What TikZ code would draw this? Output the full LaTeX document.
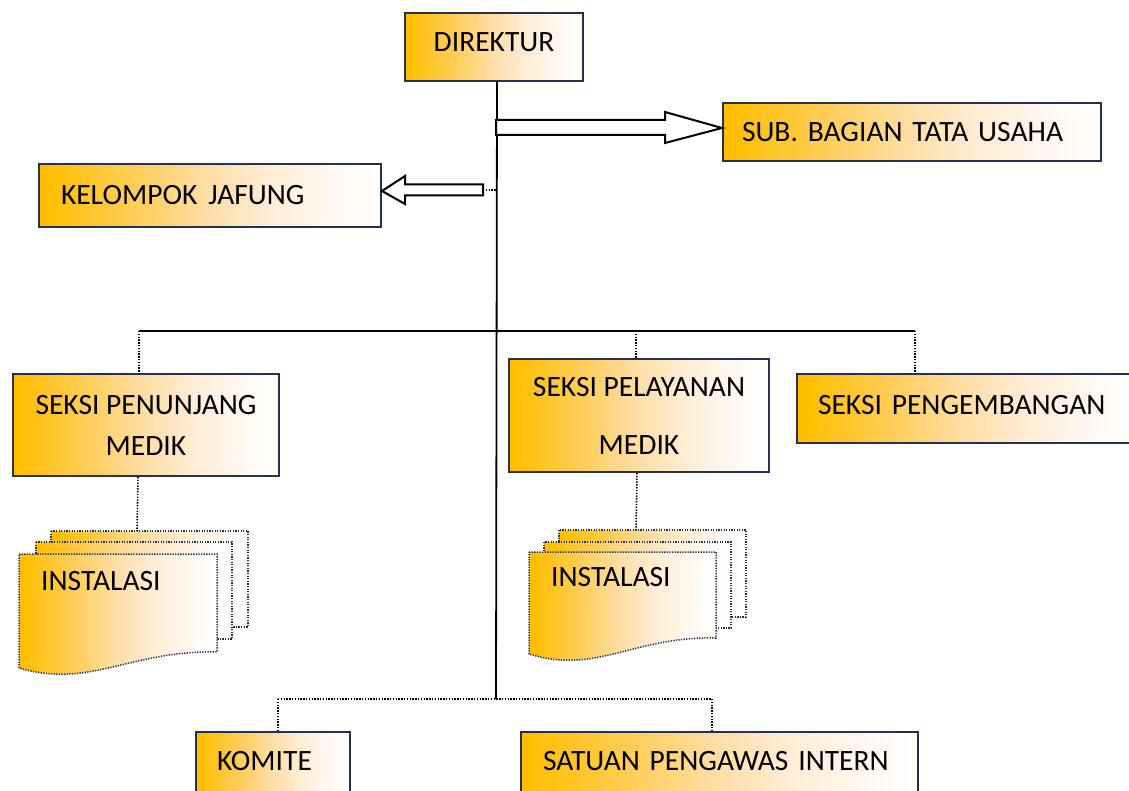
\documentclass[tikz,border=0pt]{standalone}
\usepackage{fontspec}
\setmainfont{Carlito}
\definecolor{gold}{HTML}{FFBF00}
\definecolor{goldA}{HTML}{FFCC52}
\definecolor{goldB}{HTML}{FFDDA2}
\definecolor{goldC}{HTML}{FFEDD6}
\definecolor{goldD}{HTML}{FFF8F1}
\definecolor{navy}{HTML}{24324F}
\pgfdeclarehorizontalshading{goldfade}{100bp}{color(0bp)=(gold); color(26bp)=(gold); color(38bp)=(goldA); color(49bp)=(goldB); color(59bp)=(goldC); color(68bp)=(goldD); color(75bp)=(white); color(100bp)=(white)}
\newcommand\backpage[4]{\shadedraw[docst] (#1,#2) rectangle (#3,#4);}
\newcommand\frontpage[4]{\shadedraw[docst] (#1,#2) -- (#3,#2) -- (#3,#4)
  .. controls ({#1+0.56*(#3-#1)},{#4-2}) and ({#1+0.36*(#3-#1)},{#4+37}) .. (#1,{#4+16}) -- cycle;}
\begin{document}
\begin{tikzpicture}[x=1pt,y=-1pt,
  txt/.style={font=\fontsize{29.5}{35}\selectfont, text=black},
  box/.style={txt, draw=navy, line width=2pt, shading=goldfade,
    anchor=north west, inner sep=0pt},
  lbox/.style={box, align=left},
  cbox/.style={box, align=center},
  docst/.style={draw=navy, line width=1.5pt, dash pattern=on 1.3pt off 1.3pt, shading=goldfade},
  spine/.style={draw=black, line width=1.8pt},
  hline/.style={draw=black, line width=1.2pt},
  dotc/.style={draw=black, line width=1.6pt, dash pattern=on 1.4pt off 1.4pt},
  blockarrow/.style={draw=black, line width=2pt, fill=white, line join=miter}
]
\clip (0,0) rectangle (1129,791);
\fill[white] (0,0) rectangle (1129,791);

% boxes
\node[cbox, minimum width=178pt, minimum height=68pt, text depth=10pt] (dir) at (404,12) {DIREKTUR};
\node[lbox, minimum width=378pt, minimum height=58pt, inner xsep=19pt, text width=340pt] (sub) at (722,102) {\mbox{SUB. BAGIAN TATA USAHA}};
\node[lbox, minimum width=342pt, minimum height=63pt, inner xsep=22pt, text width=298pt] (kel) at (38,163) {\mbox{KELOMPOK\hspace{11pt}JAFUNG}};
\node[cbox, minimum width=266pt, minimum height=102pt, font=\fontsize{29.5}{41}\selectfont] (pen) at (12,373) {SEKSI PENUNJANG\\MEDIK};
\node[cbox, minimum width=260pt, minimum height=113pt, font=\fontsize{29.5}{58}\selectfont] (pel) at (508,358) {SEKSI PELAYANAN\\MEDIK};
\node[lbox, minimum width=340pt, minimum height=69pt, inner xsep=21pt, text width=298pt, text depth=7pt] (pgb) at (796,373) {\mbox{SEKSI PENGEMBANGAN}};
\node[lbox, minimum width=154pt, minimum height=74pt, inner xsep=21pt, text width=112pt, text depth=16pt] (kom) at (195,731) {\mbox{KOMITE}};
\node[lbox, minimum width=397pt, minimum height=74pt, inner xsep=22pt, text width=353pt, text depth=16pt] (spi) at (520,731) {\mbox{SATUAN PENGAWAS INTERN}};

% spine
\coordinate (spinetop) at ([xshift=3pt]dir.south);
\coordinate (spinebot) at (496,699);
\draw[spine] (spinetop) -- (spinebot);

% block arrow to SUB. BAGIAN
\coordinate (tipR) at ([yshift=4pt]sub.west);
\draw[blockarrow] (496,120) -- (665,120) -- (665,112) -- (tipR) -- (665,143) -- (665,135) -- (496,135) -- cycle;

% block arrow to KELOMPOK
\coordinate (tipL) at ([yshift=4.5pt]kel.east);
\coordinate (arrL) at (483,190);
\draw[blockarrow] (tipL) -- (405,176) -- (405,184.5) -- (483,184.5) -- (483,195.5) -- (405,195.5) -- (405,204) -- cycle;
\draw[dotc] (arrL) -- (496,190);

% seksi bus
\coordinate (busL) at (139,331);
\coordinate (busR) at (915,331);
\draw[hline] (busL) -- (busR);
\draw[dotc] (busL) -- (busL |- pen.north);
\draw[dotc] (636,331) -- (636,358);
\draw[dotc] (busR) -- (busR |- pgb.north);

% instalasi (left)
\backpage{51}{531}{248}{627}
\backpage{36}{542}{232}{639}
\frontpage{19}{554}{217}{652}
\node[txt, anchor=west, inner sep=0pt] (inst1) at (41,581) {INSTALASI};
\draw[dotc] ([xshift=-8pt]pen.south) -- (137,531);

% instalasi (right)
\backpage{559}{530}{746}{617}
\backpage{544}{542}{731}{628}
\frontpage{529}{552}{716}{638}
\node[txt, anchor=west, inner sep=0pt] (inst2) at (551,577) {INSTALASI};
\draw[dotc] ([xshift=-2pt]pel.south) -- (636,530);

% bottom bus
\coordinate (bbL) at (278,699);
\coordinate (bbR) at (712,699);
\draw[dotc] (bbL) -- (bbR);
\draw[dotc] (bbL) -- (bbL |- kom.north);
\draw[dotc] (bbR) -- (bbR |- spi.north);
\end{tikzpicture}
\end{document}
